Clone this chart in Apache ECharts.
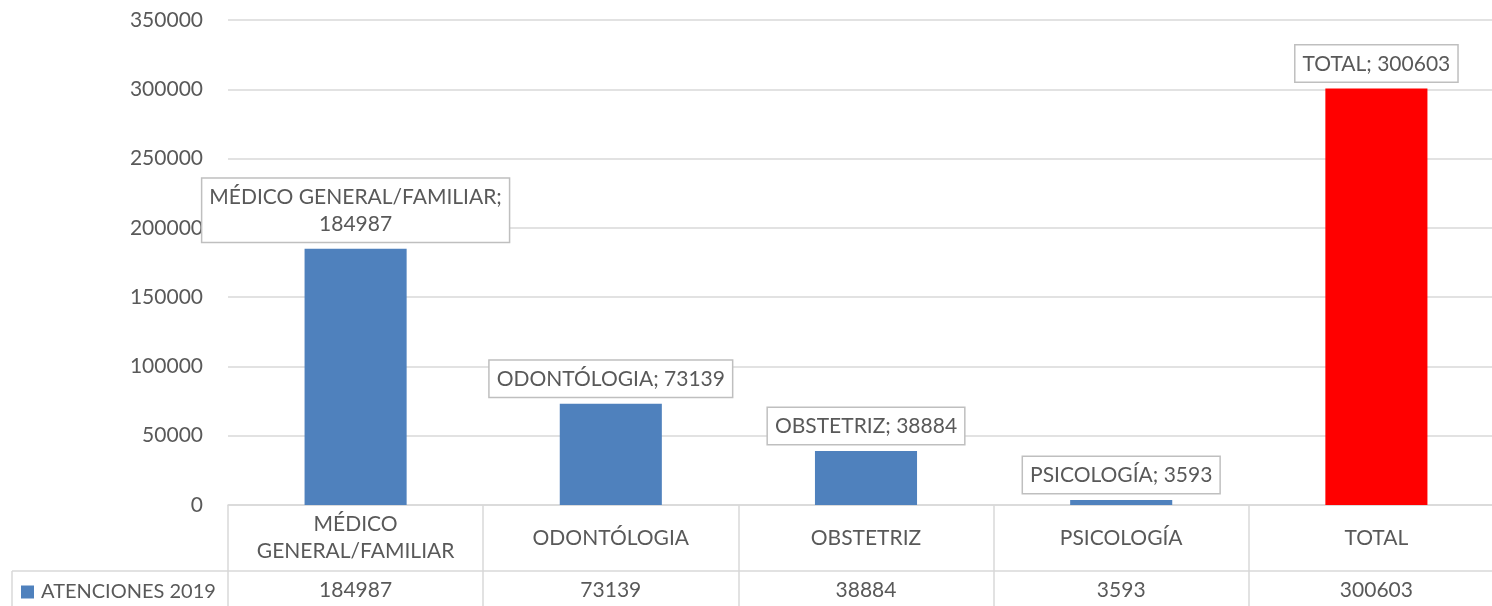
<!DOCTYPE html>
<html>
<head>
<meta charset="utf-8">
<script src="https://cdn.jsdelivr.net/npm/echarts@6/dist/echarts.min.js"></script>
<style>html,body{margin:0;padding:0;background:#fff;overflow:hidden}#c{width:1504px;height:606px}</style>
</head>
<body>
<div id="c"></div>
<script>
const categories = ['MÉDICO GENERAL/FAMILIAR', 'ODONTÓLOGIA', 'OBSTETRIZ', 'PSICOLOGÍA', 'TOTAL'];
const categoryLabels = ['MÉDICO\nGENERAL/FAMILIAR', 'ODONTÓLOGIA', 'OBSTETRIZ', 'PSICOLOGÍA', 'TOTAL'];
const values = [184987, 73139, 38884, 3593, 300603];
const seriesName = 'ATENCIONES 2019';
const yTicks = [0, 50000, 100000, 150000, 200000, 250000, 300000, 350000];

const FONT = 'Lato';
const FS = 21;
const TXT = '#595959';
const LINE = '#d9d9d9';

const chart = echarts.init(document.getElementById('c'));
chart.setOption({
  animation: false,
  textStyle: { fontFamily: FONT },
  grid: { left: 228, right: 0, top: 20, bottom: 101, containLabel: false },
  legend: {
    data: [{ name: seriesName, icon: 'rect' }],
    left: 21, top: 582, padding: 0, itemWidth: 13, itemHeight: 13,
    textStyle: { color: TXT, fontSize: 20, fontFamily: FONT, padding: [0, 0, 0, 2] }
  },
  xAxis: [
    {
      type: 'category', data: categories, position: 'bottom',
      axisLine: { show: true, lineStyle: { color: LINE, width: 1.5 } },
      axisTick: { show: true, length: 66, lineStyle: { color: LINE, width: 1.5 } },
      axisLabel: {
        color: TXT, fontSize: FS, fontFamily: FONT, margin: 33, verticalAlign: 'middle',
        lineHeight: 27, interval: 0,
        formatter: (v, i) => categoryLabels[i]
      }
    },
    {
      type: 'category', data: categories, position: 'bottom', offset: 66,
      axisLine: { show: true, lineStyle: { color: LINE, width: 1.5 } },
      axisTick: { show: true, length: 40, lineStyle: { color: LINE, width: 1.5 } },
      axisLabel: {
        color: TXT, fontSize: FS, fontFamily: FONT, margin: 19, verticalAlign: 'middle', interval: 0,
        formatter: (v, i) => String(values[i])
      }
    }
  ],
  yAxis: {
    type: 'value', min: yTicks[0], max: yTicks[yTicks.length - 1], interval: 50000,
    axisLine: { show: false }, axisTick: { show: false },
    axisLabel: { color: TXT, fontSize: FS, fontFamily: FONT, margin: 25, formatter: v => String(v) },
    splitLine: { lineStyle: { color: LINE, width: 1.5 } }
  },
  series: [{
    name: seriesName, type: 'bar', barWidth: '40%', xAxisIndex: 0,
    itemStyle: { color: '#4f81bd' },
    data: values.map((v, i) => categories[i] === 'TOTAL' ? { value: v, itemStyle: { color: '#ff0000' } } : v),
    label: {
      show: true, position: 'top', distance: 7,
      color: TXT, fontSize: FS, fontFamily: FONT, lineHeight: 27,
      backgroundColor: '#fff', borderColor: '#bfbfbf', borderWidth: 1.5,
      padding: [5, 7, 4, 7],
      formatter: p => p.name.length > 20 ? p.name + ';\n' + p.value : p.name + '; ' + p.value
    }
  }],
  graphic: [
    { type: 'line', shape: { x1: 12, y1: 571, x2: 228, y2: 571 }, style: { stroke: LINE, lineWidth: 1.5 } },
    { type: 'line', shape: { x1: 12, y1: 571, x2: 12, y2: 606 }, style: { stroke: LINE, lineWidth: 1.5 } }
  ]
});
</script>
</body>
</html>
